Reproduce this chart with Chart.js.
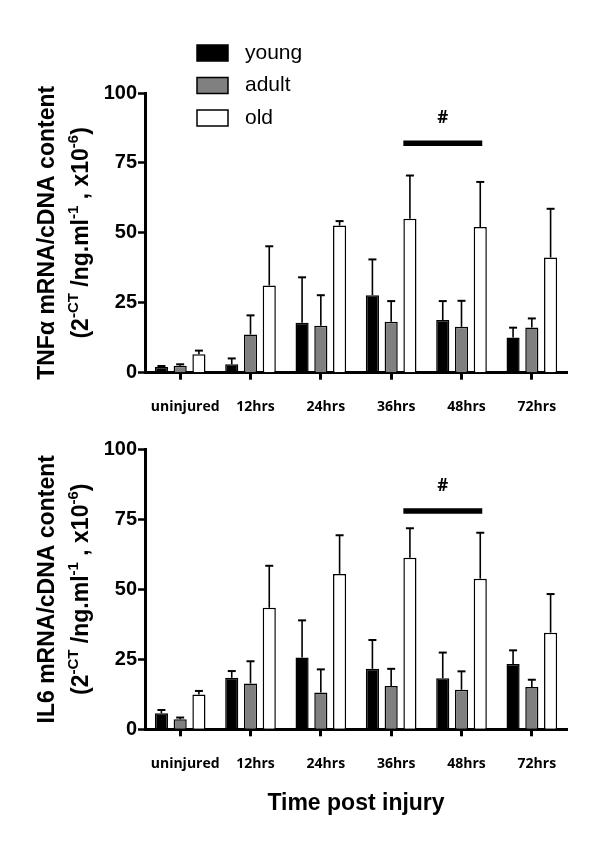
<!DOCTYPE html>
<html>
<head>
<meta charset="utf-8">
<script src="https://cdn.jsdelivr.net/npm/chart.js@4"></script>
<style>
  html, body { margin: 0; padding: 0; background: #fff; }
  #wrap { position: relative; width: 600px; height: 847px; }
  canvas { position: absolute; left: 0; }
</style>
</head>
<body>
<div id="wrap">
  <canvas id="tnf" width="600" height="420" style="top:0"></canvas>
  <canvas id="il6" width="600" height="427" style="top:420px"></canvas>
</div>
<script>
// categories and series
const CATEGORIES = ['uninjured', '12hrs', '24hrs', '36hrs', '48hrs', '72hrs'];
const SERIES = ['young', 'adult', 'old'];
const SERIES_COLORS = ['#000000', '#808080', '#ffffff'];
const Y_TICKS = [0, 25, 50, 75, 100];

// TNF-alpha (means and upper SEM)
const TNF_YOUNG = [2.0, 3.0, 17.9, 27.7, 18.8, 12.6];
const TNF_ADULT = [2.5, 13.7, 16.8, 18.2, 16.4, 16.2];
const TNF_OLD = [6.6, 31.2, 52.6, 55.0, 52.1, 41.2];
const TNF_YOUNG_ERR = [0.4, 2.1, 16.2, 12.8, 6.8, 3.5];
const TNF_ADULT_ERR = [0.5, 6.8, 10.9, 7.4, 9.3, 3.2];
const TNF_OLD_ERR = [1.3, 14.0, 1.6, 15.5, 16.1, 17.4];

// IL6
const IL6_YOUNG = [5.7, 18.4, 25.6, 21.6, 18.2, 23.3];
const IL6_ADULT = [3.6, 16.4, 13.1, 15.5, 14.1, 15.1];
const IL6_OLD = [12.4, 43.4, 55.5, 61.3, 53.8, 34.5];
const IL6_YOUNG_ERR = [1.2, 2.4, 13.3, 10.3, 9.2, 4.9];
const IL6_ADULT_ERR = [0.6, 7.9, 8.3, 6.1, 6.6, 2.6];
const IL6_OLD_ERR = [1.3, 15.0, 13.8, 10.5, 16.4, 13.8];

// significance bar (old group, 36hrs to 48hrs)
const TNF_SIG = { from: 3, to: 4, value: 82 };
const IL6_SIG = { from: 3, to: 4, value: 78 };

// draws error bars, the # bar, legend and the rotated y title
const extras = {
  id: 'extras',
  afterDatasetsDraw(chart, args, opts) {
    const ctx = chart.ctx;
    const y = chart.scales.y;
    ctx.save();
    ctx.strokeStyle = '#000';
    ctx.fillStyle = '#000';
    chart.data.datasets.forEach((ds, di) => {
      const meta = chart.getDatasetMeta(di);
      meta.data.forEach((bar, i) => {
        const top = y.getPixelForValue(ds.data[i] + ds.errors[i]);
        ctx.lineWidth = 1.6;
        ctx.beginPath();
        ctx.moveTo(bar.x, bar.y);
        ctx.lineTo(bar.x, top);
        ctx.stroke();
        ctx.lineWidth = 2;
        ctx.beginPath();
        ctx.moveTo(bar.x - 4, top);
        ctx.lineTo(bar.x + 4, top);
        ctx.stroke();
      });
    });

    // # bar
    const old = chart.getDatasetMeta(2).data;
    const a = old[opts.sig.from], b = old[opts.sig.to];
    const sy = y.getPixelForValue(opts.sig.value);
    const x1 = a.x - a.width / 2, x2 = b.x + 2;
    ctx.lineWidth = 5.5;
    ctx.beginPath();
    ctx.moveTo(x1, sy);
    ctx.lineTo(x2, sy);
    ctx.stroke();
    ctx.font = 'bold 17px "Open Sans"';
    ctx.textAlign = 'center';
    ctx.textBaseline = 'middle';
    ctx.fillText('#', (x1 + x2) / 2, sy - 25);
    ctx.restore();
  },
  afterDraw(chart, args, opts) {
    const ctx = chart.ctx;
    const area = chart.chartArea;
    ctx.save();
    ctx.fillStyle = '#000';

    // legend
    if (opts.legend) {
      const rows = [53, 85.5, 118];
      ctx.font = '21px "Liberation Sans"';
      ctx.textAlign = 'left';
      ctx.textBaseline = 'middle';
      chart.data.datasets.forEach((ds, i) => {
        ctx.fillStyle = ds.backgroundColor;
        ctx.fillRect(197, rows[i] - 8, 31, 16);
        ctx.strokeStyle = '#000';
        ctx.lineWidth = 1.5;
        ctx.strokeRect(197, rows[i] - 8, 31, 16);
        ctx.fillStyle = '#000';
        ctx.fillText(ds.label, 245, rows[i]);
      });
    }

    // y title, two rotated lines, second with superscripts
    const cy = (area.top + area.bottom) / 2;
    ctx.translate(0, cy);
    ctx.rotate(-Math.PI / 2);
    ctx.textBaseline = 'middle';
    ctx.textAlign = 'center';
    ctx.font = 'bold 23px "Liberation Sans"';
    ctx.fillText(opts.title, 0, 47.5);

    const big = 'bold 23px "Liberation Sans"';
    const small = 'bold 15px "Liberation Sans"';
    const segs = [
      ['(2', big, 0], ['-CT', small, -8], [' /ng.ml', big, 0], ['-1', small, -8],
      [' , x10', big, 0], ['-6', small, -8], [')', big, 0]
    ];
    let total = 0;
    segs.forEach(s => { ctx.font = s[1]; total += ctx.measureText(s[0]).width; });
    let x = -total / 2;
    ctx.textAlign = 'left';
    segs.forEach(s => {
      ctx.font = s[1];
      ctx.fillText(s[0], x, 82 + s[2]);
      x += ctx.measureText(s[0]).width;
    });
    ctx.restore();
  }
};

function makeChart(id, young, adult, old, errs, sig, title, opts) {
  const values = [young, adult, old];
  return new Chart(document.getElementById(id), {
    type: 'bar',
    data: {
      labels: CATEGORIES,
      datasets: SERIES.map((name, i) => ({
        label: name,
        data: values[i],
        errors: errs[i],
        backgroundColor: SERIES_COLORS[i],
        borderColor: '#000',
        borderWidth: 1.5,
        categoryPercentage: 0.8,
        barPercentage: 0.7
      }))
    },
    options: {
      responsive: false,
      animation: false,
      devicePixelRatio: 1,
      layout: { padding: { top: opts.top, right: 33, left: 0, bottom: 0 } },
      plugins: {
        legend: { display: false },
        tooltip: { enabled: false },
        extras: { sig: sig, title: title, legend: opts.legend }
      },
      scales: {
        x: {
          grid: { offset: false, drawOnChartArea: false, drawTicks: true, tickLength: 7, tickWidth: 3, tickColor: '#000' },
          border: { display: true, color: '#000', width: 3 },
          ticks: {
            color: '#000', padding: 19, labelOffset: 5,
            maxRotation: 0, minRotation: 0, autoSkip: false,
            font: { family: 'Open Sans', weight: 'bold', size: 14 }
          },
          title: opts.xTitle ? {
            display: true, text: opts.xTitle, color: '#000',
            font: { family: 'Liberation Sans', weight: 'bold', size: 23 },
            padding: { top: 0, bottom: 30 }
          } : { display: false },
          afterFit: s => { s.height = opts.xHeight; }
        },
        y: {
          min: 0, max: 100,
          afterBuildTicks: s => { s.ticks = Y_TICKS.map(v => ({ value: v })); },
          grid: { drawOnChartArea: false, drawTicks: true, tickLength: 7, tickWidth: 2.5, tickColor: '#000' },
          border: { display: true, color: '#000', width: 3 },
          ticks: { color: '#000', padding: 1, font: { family: 'Liberation Sans', weight: 'bold', size: 20 } },
          afterFit: s => { s.width = 145; }
        }
      }
    },
    plugins: [extras]
  });
}

makeChart('tnf', TNF_YOUNG, TNF_ADULT, TNF_OLD,
  [TNF_YOUNG_ERR, TNF_ADULT_ERR, TNF_OLD_ERR], TNF_SIG,
  'TNF\u03b1 mRNA/cDNA content',
  { top: 93, xHeight: 47.3, legend: true });

makeChart('il6', IL6_YOUNG, IL6_ADULT, IL6_OLD,
  [IL6_YOUNG_ERR, IL6_ADULT_ERR, IL6_OLD_ERR], IL6_SIG,
  'IL6 mRNA/cDNA content',
  { top: 29.3, xHeight: 117.7, legend: false, xTitle: 'Time post injury' });
</script>
</body>
</html>
